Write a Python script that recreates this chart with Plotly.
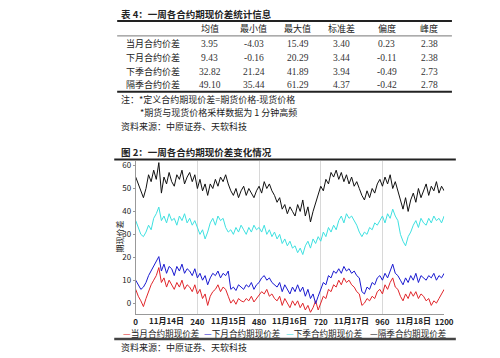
import plotly.graph_objects as go

# ---------------- data ----------------
row_names = ["当月合约价差", "下月合约价差", "下季合约价差", "隔季合约价差"]
col_names = ["均值", "最小值", "最大值", "标准差", "偏度", "峰度"]
stat_mean = ["3.95", "9.43", "32.82", "49.10"]
stat_min = ["-4.03", "-0.16", "21.24", "35.44"]
stat_max = ["15.49", "20.29", "41.89", "61.29"]
stat_std = ["3.40", "3.44", "3.94", "4.37"]
stat_skew = ["0.23", "-0.11", "-0.49", "-0.42"]
stat_kurt = ["2.38", "2.38", "2.73", "2.78"]

minutes = list(range(0, 1201, 10))
date_labels = ["11月14日", "11月15日", "11月16日", "11月17日", "11月18日"]
date_pos = [120, 360, 600, 840, 1080]
x_ticks = [0, 240, 480, 720, 960, 1200]
series_names = ["当月合约期现价差", "下月合约期现价差", "下季合约期现价差", "隔季合约期现价差"]

spread_m0 = [6, 3, 1, -1.5,
             2, 5, 8, 10, 12,
             15.5,
             9, 11, 7, 10, 8, 6, 9, 7, 10, 6, 8,
             7, 5, 8, 4, 6, 2, 4, -1,
             3, 5, 6, 8, 5, 7, 6, 3,
             0, 1.5, -0.5, 2, 1, 0.5, 2, 1, 3, 0.5, 2,
             3, 5, 4, 6, 3, 4, 2,
             1, 3, -1, 2, 0, -2, 1, -1,
             1, -2, 0, -3, -1, -4, -2, 1,
             -3, 0, 3, 2, 6, 5, 8, 7,
             10, 8, 11, 9, 10, 8, 7, 5, 4,
             -1, 0, 2, 1, 3, 2, 5,
             6, 4, 8, 6, 9, 11, 7, 6,
             3, 1, 4, 2, 5,
             3, 5, 2, 4, 3, 1, 2, -1, 1, 0, 2, 4, 6]

spread_m1 = [10, 8, 6, 7,
             9, 12, 14, 16, 18,
             20.3,
             14, 17, 13, 16, 15, 12, 16, 14, 17, 13, 15,
             14, 12, 15, 11, 13, 10, 12, 8,
             11, 13, 12, 14, 11, 13, 12, 14,
             6, 7, 5.5, 8, 7, 6, 8, 7, 9, 6, 8,
             9, 11, 12, 10, 11, 9, 8,
             7, 9, 5, 8, 6, 4, 7, 5,
             8, 5, 7, 3, 6, 2, 4, -0.2,
             3, 6, 9, 8, 12, 11, 14, 13,
             15, 13, 16, 14, 15, 13, 14, 12, 11,
             5, 4, 7, 6, 9, 8, 11,
             12, 10, 13, 11, 14, 17, 13, 12,
             10, 8, 11, 9, 12,
             10, 13, 9, 12, 11, 10, 12, 11, 13, 10, 12, 11, 13]

spread_q1 = [36, 33, 30, 29,
             31, 34, 32, 37, 39,
             41.9,
             36, 38, 35, 39, 36, 37, 34, 38, 36, 39, 35,
             37, 34, 36, 33, 30, 32, 28, 31,
             35, 37, 34, 38, 36, 37, 33, 31,
             32, 30, 33, 31, 34, 32, 30, 33, 31, 34, 32,
             33, 31, 34, 30, 32, 29, 31,
             28, 30, 26, 28, 25, 27, 24, 25,
             22, 24, 21.2, 25, 27, 24, 28, 26,
             29, 27, 31, 29, 33, 31, 34, 32,
             36, 38, 35, 39, 37, 38, 36, 34, 31,
             29, 31, 30, 33, 32, 35, 34,
             36, 38, 35, 39, 37, 41, 38, 36,
             30, 27, 25, 29, 31,
             34, 36, 33, 37, 35, 34, 37, 35, 38, 36, 37, 35, 38]

spread_q2 = [55, 52, 49, 46,
             50, 56, 53, 58, 54,
             61.3,
             48, 55, 52, 57, 53, 51, 56, 54, 58, 52, 55,
             57, 53, 56, 50, 54, 49, 52, 47,
             52, 50, 54, 51, 55, 53, 56, 52,
             49, 47, 50, 46, 49, 51, 47, 50, 48, 46, 49,
             51, 48, 53, 50, 52, 49, 47,
             44, 46, 41, 43, 39, 42, 40, 38,
             43, 40, 45, 38, 42, 35.4, 40, 44,
             47, 51, 49, 54, 52, 57, 55, 58,
             54, 57, 53, 56, 52, 55, 51, 53, 50,
             47, 45, 49, 46, 50, 48, 52,
             54, 51, 55, 52, 56, 50, 53, 49,
             44, 41, 46, 40, 45,
             48, 44, 50, 46, 49, 52, 47, 51, 49, 53, 48, 51, 49]

series_values = [spread_m0, spread_m1, spread_q1, spread_q2]
series_colors = ["#e0262b", "#1a1ad0", "#3ee0e0", "#111111"]

# ---------------- figure ----------------
W, H = 500, 358
FONT = "Noto Sans CJK SC"
TXT = "#222222"


def py(y):
    return 1 - y / H


def px(x):
    return x / W


fig = go.Figure()
for name, vals, col in zip(series_names, series_values, series_colors):
    fig.add_trace(go.Scatter(x=minutes, y=vals, mode="lines", name=name,
                             line=dict(color=col, width=1), showlegend=False))

ann = []
shapes = []


def note(text, x, y, anchor="left", size=9, color=TXT, family=None, **kw):
    f = dict(size=size, color=color)
    if family:
        f["family"] = family
    d = dict(text=text, x=px(x), y=py(y), xref="paper", yref="paper",
             xanchor=anchor, yanchor="middle", showarrow=False, font=f)
    d.update(kw)
    ann.append(d)


def hline(y, x0, x1, color, width):
    shapes.append(dict(type="line", xref="paper", yref="paper", x0=px(x0), x1=px(x1),
                       y0=py(y), y1=py(y), line=dict(color=color, width=width)))


# Table
note("<b>表 4：一周各合约期现价差统计信息</b>", 120, 13, size=9.5)
hline(20, 118, 461, "#222", 2)
hline(35, 118, 461, "#777", 1)
hline(91, 118, 461, "#222", 2)

col_x = [213, 258, 303, 348, 394, 438]
row_y = [43, 57, 71, 84]
for cx, cn in zip(col_x, col_names):
    note(cn, cx, 28, anchor="center")
table_cols = [stat_mean, stat_min, stat_max, stat_std, stat_skew, stat_kurt]
for ri, (ry, rn) in enumerate(zip(row_y, row_names)):
    note(rn, 155, ry, anchor="center")
    for cx, colvals in zip(col_x, table_cols):
        note(colvals[ri], cx, ry, anchor="center", size=9.5, color="#333",
             family="Liberation Serif")

note("注：*定义合约期现价差=期货价格-现货价格", 120, 99)
note("*期货与现货价格采样数据为 1 分钟高频", 139, 112)
note("资料来源：中原证券、天软科技", 120, 126)

# Chart title
note("<b>图 2：一周各合约期现价差变化情况</b>", 120, 151, size=9.5)
hline(159, 115, 465, "#222", 2)
hline(339, 115, 465, "#444", 2.5)
note("资料来源：中原证券、天软科技", 120, 347)

# y-axis title
note("期现价差", 120, 236, anchor="center", size=8, textangle=-90)

# date labels
for dp, dl in zip(date_pos, date_labels):
    ann.append(dict(text="<b>" + dl + "</b>", x=dp, xref="x", y=py(320), yref="paper",
                    xanchor="center", yanchor="middle", showarrow=False,
                    font=dict(size=8, color=TXT)))

# legend (manual)
leg_x = [122, 205, 289, 375]
for lx, name, col in zip(leg_x, series_names, series_colors):
    note(f"<span style='color:{col}'>—</span>" + name, lx, 332.5, size=8.6)

fig.update_layout(
    width=W, height=H,
    margin=dict(l=0, r=0, t=0, b=0),
    paper_bgcolor="white", plot_bgcolor="white",
    font=dict(family=FONT, color=TXT),
    annotations=ann, shapes=shapes,
    xaxis=dict(domain=[px(137), px(453)], range=[0, 1200],
               tickvals=x_ticks, ticktext=[f"<b>{v}</b>" for v in x_ticks],
               showgrid=True, gridcolor="#d8d8d8", gridwidth=1,
               showline=True, linecolor="#999", linewidth=1,
               ticks="", tickfont=dict(size=8, color=TXT), zeroline=False),
    yaxis=dict(domain=[py(314), py(160)], range=[-4.8, 62.2],
               tickvals=[0, 10, 20, 30, 40, 50, 60],
               showgrid=False, showline=True, linecolor="#999", linewidth=1,
               ticks="outside", ticklen=2, tickcolor="#999",
               tickfont=dict(size=8, color=TXT), zeroline=False),
)

fig.write_html("out.html", config={"displayModeBar": False},
               post_script="document.body.style.margin='0px';document.body.style.overflow='hidden';")
